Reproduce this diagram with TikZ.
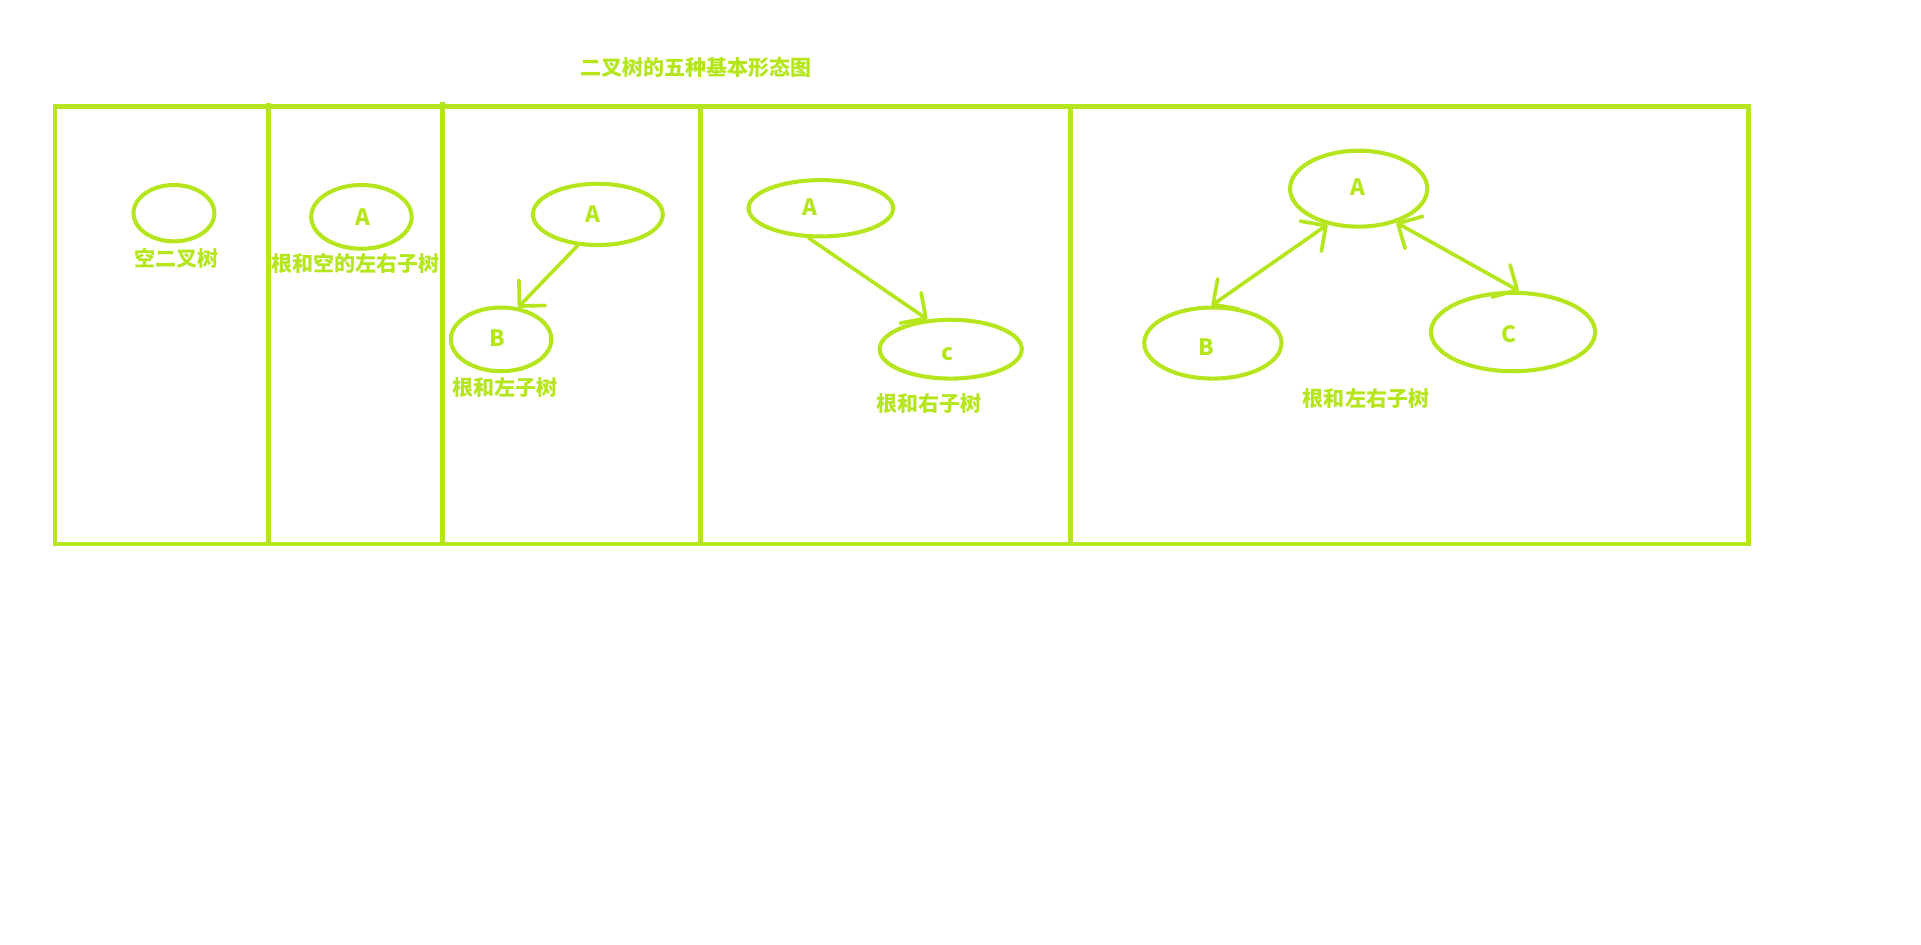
\documentclass[tikz,border=0pt]{standalone}
\usepackage{fontspec}
\usetikzlibrary{shapes.geometric,arrows.meta}
\newfontfamily\cjk{Noto Sans CJK SC}
\definecolor{limeg}{RGB}{181,230,29}
\tikzset{
  frame/.style={line width=2.3pt, draw=limeg},
  txt/.style={font=\cjk\bfseries\fontsize{10.3}{12}\selectfont, text=limeg, inner sep=0pt},
  lab/.style={font=\cjk\bfseries\fontsize{11}{13}\selectfont, text=limeg, inner sep=0pt},
  tree/.style={ellipse, line width=2pt, draw=limeg, inner sep=0pt},
  arr/.style={line width=1.8pt, draw=limeg, line cap=round, -{Straight Barb[length=9pt,width=18pt,round]}},
  darr/.style={line width=1.8pt, draw=limeg, line cap=round, {Straight Barb[length=9pt,width=18pt,round]}-{Straight Barb[length=9pt,width=18pt,round]}}
}
\begin{document}
\begin{tikzpicture}[x=0.6pt,y=-0.6pt]
\useasboundingbox (0,0) rectangle (1568,771);
% frame
\draw[frame] (45,87) rectangle (1427,444);
\draw[frame] (219,84) -- (219,444);
\draw[frame] (361,83) -- (361,444);
\draw[frame] (572,87) -- (572,444);
\draw[frame] (874,87) -- (874,444);
% title
\node[txt] (title) at (568,55) {二叉树的五种基本形态图};
% 1 empty
\node[tree, minimum width=39.6pt, minimum height=27.6pt] (e0) at (142,174) {};
\node[txt] (l1) at (144,211) {空二叉树};
% 2 root only
\node[tree, minimum width=49.2pt, minimum height=31.2pt, label={[lab,shift={(1,0)}]center:A}] (r) at (295,177) {};
\node[txt] (l2) at (290,215) {根和空的左右子树};
% 3 left subtree
\node[tree, minimum width=63.6pt, minimum height=30pt, label={[lab,shift={(-4,0)}]center:A}] (la) at (488,175) {};
\node[tree, minimum width=49.2pt, minimum height=31.2pt, label={[lab,shift={(-3,-1)}]center:B}] (lb) at (409,277) {};
\draw[arr] (la.237) -- (lb.62);
\node[txt] (l3) at (412,316) {根和左子树};
% 4 right subtree
\node[tree, minimum width=70.8pt, minimum height=27.6pt, label={[lab,shift={(-9,-1)}]center:A}] (ra) at (670,170) {};
\node[tree, minimum width=69.6pt, minimum height=28.8pt, label={[lab,shift={(-3,4)}]center:c}] (rc) at (776,285) {};
\draw[arr] (ra.248) -- (rc.128);
\node[txt] (l4) at (758,329) {根和右子树};
% 5 full
\node[tree, minimum width=67.2pt, minimum height=37.2pt, label={[lab,shift={(-1,-1)}]center:A}] (fa) at (1109,154) {};
\node[tree, minimum width=67.2pt, minimum height=34.8pt, label={[lab,shift={(-5,3)}]center:B}] (fb) at (990,280) {};
\node[tree, minimum width=80.4pt, minimum height=38.4pt, label={[lab,shift={(-3,2)}]center:C}] (fc) at (1235,271) {};
\draw[darr] (fa.229) -- (fb.92);
\draw[darr] (fa.318) -- (fc.82);
\node[txt] (l5) at (1115,325) {根和左右子树};
\end{tikzpicture}
\end{document}
